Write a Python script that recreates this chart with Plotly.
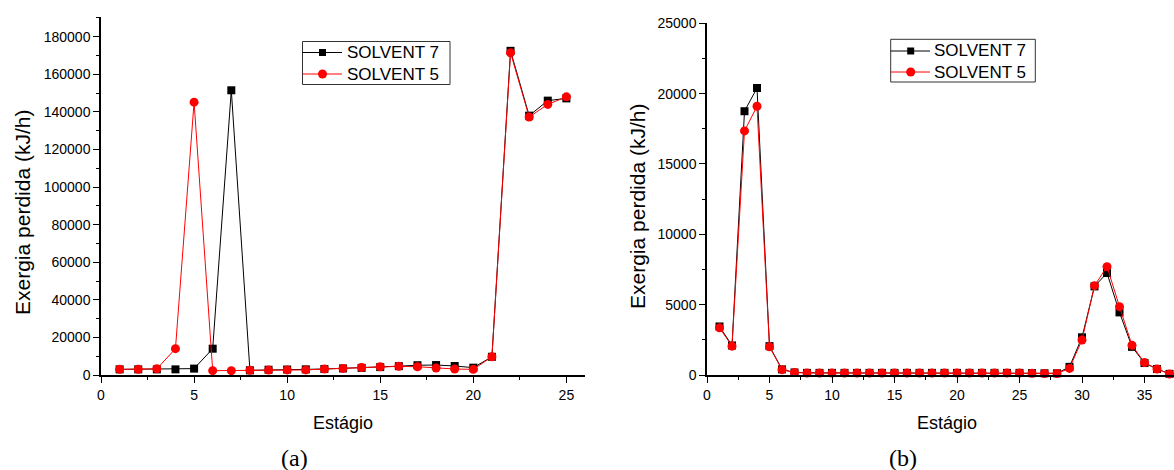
import plotly.graph_objects as go

# Stage-wise lost exergy (kJ/h) for the two solvent configurations
stage_a = list(range(1, 26))
solvent7_a = [3000, 3000, 3000, 3000, 3400, 14000, 151500, 2500, 2800, 2900,
              3000, 3200, 3500, 3800, 4200, 4700, 5200, 5300, 4800, 3900,
              9700, 172500, 138000, 146000, 147200]
solvent5_a = [3000, 3000, 3300, 14000, 145200, 2300, 2300, 2500, 2600, 2700,
              2700, 3200, 3500, 4000, 4400, 4600, 4400, 3700, 3200, 3000,
              9700, 171500, 137300, 144000, 148000]

stage_b = list(range(1, 38))
solvent7_b = [3450, 2100, 18750, 20400, 2050, 400, 180, 150, 150, 150,
              150, 150, 150, 150, 150, 150, 150, 150, 150, 150,
              150, 150, 150, 150, 150, 130, 120, 120, 580, 2680,
              6300, 7250, 4450, 2000, 850, 430, 80]
solvent5_b = [3350, 2050, 17350, 19100, 2000, 380, 170, 140, 140, 140,
              140, 140, 140, 140, 140, 140, 140, 140, 140, 140,
              140, 140, 140, 140, 140, 120, 110, 110, 470, 2490,
              6350, 7700, 4860, 2110, 880, 430, 70]

series_names = ["SOLVENT 7", "SOLVENT 5"]
series_colors = ["black", "#ff0000"]

W, H = 1174, 470
FONT = "Liberation Sans, Arial, sans-serif"
SERIF = "Liberation Serif, Times New Roman, serif"


def px_x(p):
    return p / W


def px_y(p):
    return 1 - p / H


fig = go.Figure()

series = [
    (stage_a, solvent7_a, 0, "square", 8, "x", "y"),
    (stage_a, solvent5_a, 1, "circle", 9, "x", "y"),
    (stage_b, solvent7_b, 0, "square", 8, "x2", "y2"),
    (stage_b, solvent5_b, 1, "circle", 9, "x2", "y2"),
]
for xs, ys, k, symbol, size, xa, ya in series:
    color = series_colors[k]
    fig.add_trace(go.Scatter(
        x=xs, y=ys, name=series_names[k], mode="lines+markers",
        line=dict(color=color, width=1),
        marker=dict(color=color, symbol=symbol, size=size, line=dict(width=0)),
        xaxis=xa, yaxis=ya, showlegend=False, cliponaxis=False,
    ))

axis_common = dict(
    showline=True, linecolor="black", linewidth=1.5,
    ticks="outside", ticklen=6, tickwidth=1.2, tickcolor="black",
    showgrid=False, zeroline=False, automargin=False,
    tickfont=dict(family=FONT, size=14, color="black"),
)

fig.update_layout(
    width=W, height=H,
    margin=dict(l=0, r=0, t=0, b=0, pad=0, autoexpand=False),
    paper_bgcolor="white", plot_bgcolor="white",
    font=dict(family=FONT, color="black"),
    showlegend=False,
    xaxis=dict(domain=[px_x(101), px_x(585)], range=[0, 26], dtick=5, tick0=0,
               minor=dict(ticks="outside", ticklen=3, dtick=2.5, tickcolor="black"),
               anchor="y", **axis_common),
    yaxis=dict(domain=[px_y(375), px_y(17)], range=[0, 190500], dtick=20000, tick0=0,
               tickformat="d",
               minor=dict(ticks="outside", ticklen=3, dtick=10000, tickcolor="black"),
               anchor="x", **axis_common),
    xaxis2=dict(domain=[px_x(707), 1.0], range=[0, 37.36], dtick=5, tick0=0,
                minor=dict(ticks="outside", ticklen=3, dtick=2.5, tickcolor="black"),
                anchor="y2", **axis_common),
    yaxis2=dict(domain=[px_y(375), px_y(23.3)], range=[0, 25000], dtick=5000, tick0=0,
                tickformat="d",
                minor=dict(ticks="outside", ticklen=3, dtick=2500, tickcolor="black"),
                anchor="x2", **axis_common),
)


# Boxed legend for each panel: frame, sample line, sample marker and label
def add_legend(left, top, right, bottom, rows, mark_x, text_x, line_end):
    fig.add_shape(type="rect", xref="paper", yref="paper",
                  x0=px_x(left), x1=px_x(right), y0=px_y(bottom), y1=px_y(top),
                  line=dict(color="#333333", width=1), fillcolor="white", layer="above")
    for k, ry in enumerate(rows):
        color = series_colors[k]
        fig.add_shape(type="line", xref="paper", yref="paper",
                      x0=px_x(left), x1=px_x(line_end), y0=px_y(ry), y1=px_y(ry),
                      line=dict(color=color, width=1), layer="above")
        half = 3.5 if k == 0 else 4.5
        fig.add_shape(type="rect" if k == 0 else "circle", xref="paper", yref="paper",
                      x0=px_x(mark_x - half), x1=px_x(mark_x + half),
                      y0=px_y(ry + half), y1=px_y(ry - half),
                      line=dict(width=0), fillcolor=color, layer="above")
        fig.add_annotation(text=series_names[k], x=px_x(text_x), y=px_y(ry),
                           xref="paper", yref="paper", xanchor="left", yanchor="middle",
                           showarrow=False,
                           font=dict(family=FONT, size=17, color="black"))


add_legend(302.5, 41.5, 450, 84.5, [52.5, 74], 322.5, 345, 342)
add_legend(890.7, 39.3, 1035.3, 82, [51, 72], 910.7, 932, 930)

labels = [
    ("Exergia perdida (kJ/h)", 22, 213, -90, FONT, 21),
    ("Exergia perdida (kJ/h)", 637, 207, -90, FONT, 21),
    ("Estágio", 343, 423, 0, FONT, 18),
    ("Estágio", 947, 423, 0, FONT, 18),
    ("(a)", 295, 458, 0, SERIF, 24),
    ("(b)", 903, 458, 0, SERIF, 24),
]
for text, x, y, ang, fam, size in labels:
    fig.add_annotation(
        text=text, x=px_x(x), y=px_y(y), xref="paper", yref="paper",
        xanchor="center", yanchor="middle", showarrow=False, textangle=ang,
        font=dict(family=fam, size=size, color="black"),
    )

fig.write_html("out.html")
